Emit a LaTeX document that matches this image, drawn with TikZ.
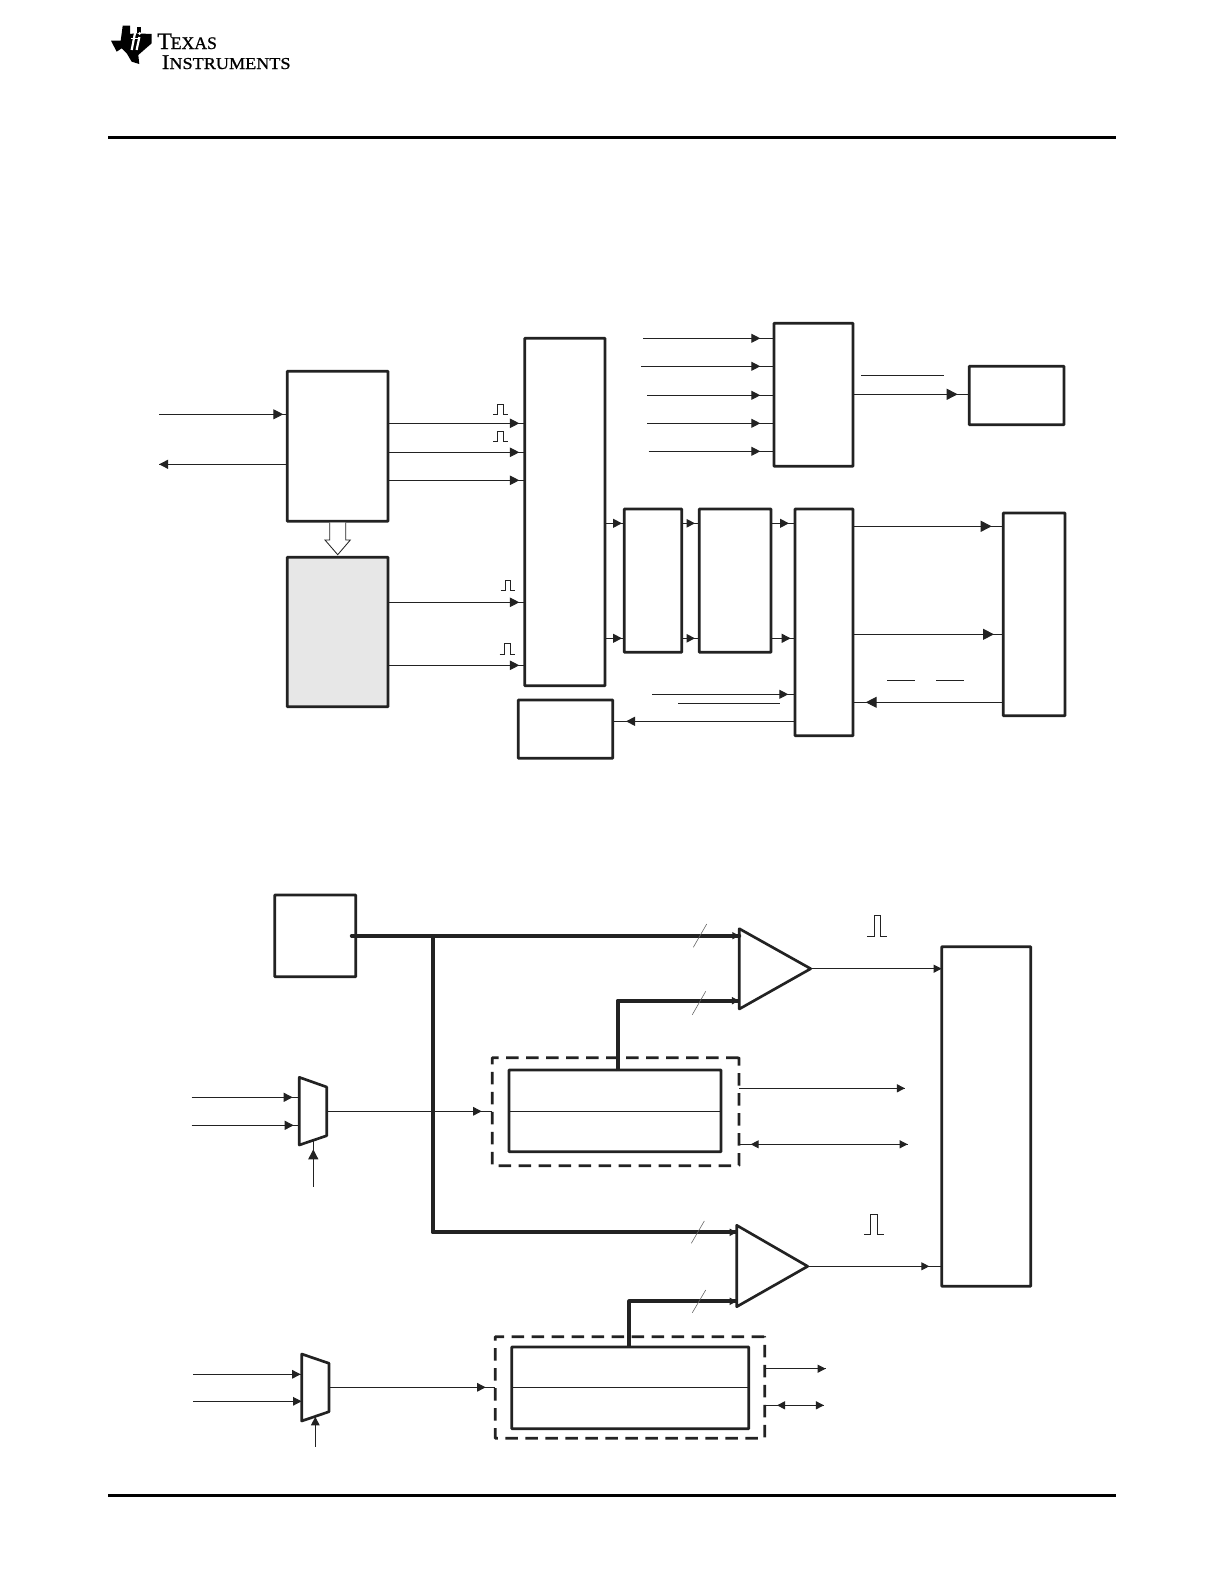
\documentclass[tikz,border=0pt]{standalone}
\usepackage{fontspec}
\newfontfamily\logofont[FakeBold=0.9,FakeStretch=1.0]{Liberation Serif}
\newfontfamily\logofontb[FakeBold=0.9,FakeStretch=1.09]{Liberation Serif}
\usetikzlibrary{arrows.meta,decorations.markings}
\definecolor{ink}{HTML}{222222}
\definecolor{shade}{HTML}{E7E7E7}
\tikzset{
  blk/.style={draw=ink,line width=1.6pt,rounded corners=0.3pt,inner sep=0pt,outer sep=0pt,anchor=north west},
  dbox/.style={blk,dash pattern=on 7.5pt off 4.5pt},
  wire/.style={draw=ink,line width=0.6pt},
  bus/.style={draw=ink,line width=2.3pt,line join=round},
  shape2/.style={draw=ink,line width=1.6pt,line join=round},
  pulsew/.style={draw=ink,line width=0.5pt},
  slashw/.style={draw=ink!70,line width=0.35pt},
  rule/.style={draw=black,line width=1.9pt},
  hd/.style 2 args={postaction={decorate,decoration={markings,
    mark=at position -#1*0.6pt with {\arrow[ink]{Triangle[length=#2*0.6pt,width=#2*0.6pt]}}}}}
}
\newcommand{\pls}[6]{\draw[pulsew] (#1,#6) -- (#2,#6) -- (#2,#5) -- (#3,#5) -- (#3,#6) -- (#4,#6);}
\begin{document}
\begin{tikzpicture}[x=0.6pt,y=-0.6pt]
\useasboundingbox (0,0) rectangle (1224,1584);
% header and footer
\coordinate (tl) at (108,137.3); \coordinate (tr) at (1116,137.3);
\coordinate (bl) at (108,1495.3); \coordinate (br) at (1116,1495.3);
\draw[rule] (tl) -- (tr);
\draw[rule] (bl) -- (br);
% logo
\fill[black,line join=round] (122.7,25.7) -- (130,25.7) -- (130,34) -- (135,33.3) -- (151.7,34) -- (151.7,43.3) -- (144,50) -- (138.3,55) -- (139.3,64) -- (131.7,61.7) -- (126.7,53.3) -- (121.7,48.3) -- (116.7,51.7) -- (111,40.7) -- (120.7,40.7) -- cycle;
\draw[white,line width=1.3pt] (131.7,50) -- (135,33);
\draw[white,line width=0.9pt] (130.5,38.5) -- (138,38.5);
\draw[white,line width=1.3pt] (136.6,50) -- (139.4,37);
\fill[black] (136.5,27) rectangle (141,33.3);
\fill[white] (139.7,33.4) circle (1.6);
\node[inner sep=0pt,anchor=base west,text=black] (logoa) at (157,49) {\logofont\fontsize{14.2}{15}\selectfont T\kern-0.6pt\fontsize{10.6}{15}\selectfont EXAS};
\node[inner sep=0pt,anchor=base west,text=black] (logob) at (161.5,69) {\logofontb\fontsize{12.6}{15}\selectfont I\fontsize{10}{15}\selectfont NSTRUMENTS};
% upper figure boxes
\node[blk,fill=shade,minimum width={(388-287.3)*0.6pt},minimum height={(706.7-557.3)*0.6pt}] (B) at (287.3,557.3) {};
\node[blk,minimum width={(388-287.3)*0.6pt},minimum height={(521.3-371.3)*0.6pt}] (A) at (287.3,371.3) {};
\node[blk,minimum width={(605-524.7)*0.6pt},minimum height={(685.7-338.3)*0.6pt}] (C) at (524.7,338.3) {};
\node[blk,minimum width={(612.7-518.3)*0.6pt},minimum height={(758.3-700)*0.6pt}] (D) at (518.3,700) {};
\node[blk,minimum width={(681.7-624.3)*0.6pt},minimum height={(652.3-509)*0.6pt}] (E) at (624.3,509) {};
\node[blk,minimum width={(771-699.3)*0.6pt},minimum height={(652.3-509)*0.6pt}] (F) at (699.3,509) {};
\node[blk,minimum width={(853-795)*0.6pt},minimum height={(735.7-509)*0.6pt}] (G) at (795,509) {};
\node[blk,minimum width={(853-774)*0.6pt},minimum height={(466.3-323.3)*0.6pt}] (H) at (774,323.3) {};
\node[blk,minimum width={(1064-969.3)*0.6pt},minimum height={(424.7-366.3)*0.6pt}] (I) at (969.3,366.3) {};
\node[blk,minimum width={(1065-1003.3)*0.6pt},minimum height={(715.7-513)*0.6pt}] (J) at (1003.3,513) {};
% hollow arrow A to B
\draw[draw=ink,line width=0.5pt,fill=white,line join=miter] (329.7,522.5) -- (329.7,540) -- (325,540) -- (337.7,554.7) -- (350.3,540) -- (345.7,540) -- (345.7,522.5);
% A connectors
\coordinate (ai) at (159,414.3); \coordinate (ao) at (159,464.3);
\draw[wire,hd={4}{10}] (ai) -- (ai -| A.west);
\draw[wire,hd={0.05}{9}] (ao -| A.west) -- (ao);
\draw[wire,hd={5.4}{9.5}] (A.east |- 0,423.3) -- (C.west |- 0,423.3);
\draw[wire,hd={5.4}{9.5}] (A.east |- 0,452.3) -- (C.west |- 0,452.3);
\draw[wire,hd={5.4}{9.5}] (A.east |- 0,480.3) -- (C.west |- 0,480.3);
\draw[wire,hd={5.4}{9.5}] (B.east |- 0,602.3) -- (C.west |- 0,602.3);
\draw[wire,hd={5.4}{9.5}] (B.east |- 0,665.3) -- (C.west |- 0,665.3);
% pulses upper
\pls{493.3}{497.5}{503.5}{508.3}{404.3}{414.7}
\pls{493.3}{497.5}{503.5}{508.3}{431.3}{441.7}
\pls{500.7}{505}{510.5}{515}{580}{590.3}
\pls{499.7}{504}{510}{514.7}{643.3}{654.7}
% chain C-E-F-G
\draw[wire,hd={2.3}{9}] (C.east |- 0,523.3) -- (E.west |- 0,523.3);
\draw[wire,hd={2.3}{9}] (C.east |- 0,638.3) -- (E.west |- 0,638.3);
\draw[wire,hd={4.3}{8.5}] (E.east |- 0,523.3) -- (F.west |- 0,523.3);
\draw[wire,hd={4.3}{8.5}] (E.east |- 0,638.3) -- (F.west |- 0,638.3);
\draw[wire,hd={6}{9}] (F.east |- 0,523.3) -- (G.west |- 0,523.3);
\draw[wire,hd={4.3}{9}] (F.east |- 0,638.3) -- (G.west |- 0,638.3);
% H inputs
\coordinate (h1) at (643,338.3); \coordinate (h2) at (641,366.3); \coordinate (h3) at (647,395.3); \coordinate (h4) at (647,423.3); \coordinate (h5) at (648.7,451.3);
\draw[wire,hd={13.7}{9}] (h1) -- (h1 -| H.west);
\draw[wire,hd={13.7}{9}] (h2) -- (h2 -| H.west);
\draw[wire,hd={13.7}{9}] (h3) -- (h3 -| H.west);
\draw[wire,hd={13.7}{9}] (h4) -- (h4 -| H.west);
\draw[wire,hd={13.7}{9}] (h5) -- (h5 -| H.west);
\draw[wire,hd={11.6}{11}] (H.east |- 0,394.3) -- (I.west |- 0,394.3);
\coordinate (o1a) at (861,375.3); \coordinate (o1b) at (944,375.3);
\draw[wire] (o1a) -- (o1b);
% G to J
\draw[wire,hd={11.6}{11}] (G.east |- 0,526.3) -- (J.west |- 0,526.3);
\draw[wire,hd={9.3}{11}] (G.east |- 0,634.3) -- (J.west |- 0,634.3);
\draw[wire,hd={12.7}{11}] (J.west |- 0,702.3) -- (G.east |- 0,702.3);
\coordinate (o2a) at (887,680); \coordinate (o2b) at (915,680); \coordinate (o3a) at (936,680); \coordinate (o3b) at (964,680);
\draw[wire] (o2a) -- (o2b);
\draw[wire] (o3a) -- (o3b);
% G inputs/outputs left
\coordinate (gi) at (652,694.3);
\draw[wire,hd={6.7}{9}] (gi) -- (gi -| G.west);
\coordinate (o4a) at (678,703.3); \coordinate (o4b) at (780,703.3);
\draw[wire] (o4a) -- (o4b);
\draw[wire,hd={13.3}{9}] (G.west |- 0,721.3) -- (D.east |- 0,721.3);

% lower figure
\node[blk,minimum width={(355.7-274.7)*0.6pt},minimum height={(976.7-895)*0.6pt}] (K) at (274.7,895) {};
\node[blk,minimum width={(1030.7-941.7)*0.6pt},minimum height={(1286.3-946.7)*0.6pt}] (L) at (941.7,946.7) {};
\node[dbox,minimum width={(739-492.3)*0.6pt},minimum height={(1165.7-1057.7)*0.6pt}] (D1) at (492.3,1057.7) {};
\node[blk,minimum width={(721-509)*0.6pt},minimum height={(1151.7-1070)*0.6pt}] (S1) at (509,1070) {};
\node[dbox,minimum width={(764.7-495.3)*0.6pt},minimum height={(1438.3-1336.7)*0.6pt}] (D2) at (495.3,1336.7) {};
\node[blk,minimum width={(748.7-511.7)*0.6pt},minimum height={(1428.7-1347)*0.6pt}] (S2) at (511.7,1347) {};
% comparators
\coordinate (c1a) at (739.3,928.7); \coordinate (c1b) at (739.3,1009); \coordinate (c1t) at (810.7,968.7);
\coordinate (c2a) at (736.7,1225.3); \coordinate (c2b) at (736.7,1306.7); \coordinate (c2t) at (807.7,1266.3);
\draw[shape2] (c1a) -- (c1t) -- (c1b) -- cycle;
\draw[shape2] (c2a) -- (c2t) -- (c2b) -- cycle;
% muxes
\coordinate (m1a) at (299.3,1077.3); \coordinate (m1b) at (326.7,1087); \coordinate (m1c) at (326.7,1135.7); \coordinate (m1d) at (299.3,1145);
\coordinate (m2a) at (301.7,1354); \coordinate (m2b) at (329,1363.3); \coordinate (m2c) at (329,1411.7); \coordinate (m2d) at (301.7,1421);
\draw[shape2] (m1a) -- (m1b) -- (m1c) -- (m1d) -- cycle;
\draw[shape2] (m2a) -- (m2b) -- (m2c) -- (m2d) -- cycle;
% buses
\coordinate (bus0) at (351.7,935.7); \coordinate (busj) at (432.7,935.7); \coordinate (busc) at (432.7,1232.3);
\draw[bus,line cap=round,hd={0.05}{7}] (bus0) -- (c1a |- bus0);
\draw[bus,hd={0.05}{7}] (busj) -- (busc) -- (c2a |- busc);
\coordinate (bs1) at (617.7,1071); \coordinate (bs1t) at (739,1000.7);
\draw[bus,hd={0.05}{7}] (bs1) |- (bs1t);
\coordinate (bs2) at (629.3,1347); \coordinate (bs2t) at (736.7,1301.3);
\draw[bus,hd={0.05}{7}] (bs2) |- (bs2t);
% slashes
\coordinate (s1a) at (693.3,947.3); \coordinate (s1b) at (706.7,924);
\coordinate (s2a) at (692.3,1014.7); \coordinate (s2b) at (705.7,991.3);
\coordinate (s3a) at (691.3,1243.3); \coordinate (s3b) at (704.3,1221);
\coordinate (s4a) at (692.3,1312.7); \coordinate (s4b) at (705.7,1290);
\draw[slashw] (s1a) -- (s1b);
\draw[slashw] (s2a) -- (s2b);
\draw[slashw] (s3a) -- (s3b);
\draw[slashw] (s4a) -- (s4b);
% outputs to L
\draw[wire,hd={0.05}{8}] (c1t) -- (c1t -| L.west);
\draw[wire,hd={12.4}{8}] (c2t) -- (c2t -| L.west);
\pls{867.3}{874}{880.3}{887.3}{915}{936.3}
\pls{864}{870.5}{877.5}{884}{1214}{1234.3}
% mux 1 connectors
\coordinate (mi1) at (191.7,1097.3); \coordinate (mi2) at (191.7,1125.3); \coordinate (ms1) at (313.3,1186.7); \coordinate (ms1e) at (313.3,1141);
\draw[wire,hd={6.6}{9}] (mi1) -- (mi1 -| m1a);
\draw[wire,hd={5.6}{9}] (mi2) -- (mi2 -| m1a);
\draw[wire,hd={8.3}{10}] (ms1) -- (ms1e);
\coordinate (mo1) at (326.7,1111.3);
\draw[wire,hd={10.6}{8.5}] (mo1) -- (mo1 -| D1.west);
\draw[wire] (S1.west |- 0,1111.3) -- (S1.east |- 0,1111.3);
\coordinate (d1o) at (905,1088.3); \coordinate (d1b) at (907.7,1144.3);
\draw[wire,hd={0.05}{8}] (D1.east |- d1o) -- (d1o);
\draw[wire,hd={0.05}{8}] (D1.east |- d1b) -- (d1b);
\draw[wire,hd={11.7}{8}] (d1b) -- (D1.east |- d1b);
% mux 2 connectors
\coordinate (mi3) at (193.3,1374.3); \coordinate (mi4) at (193.3,1401.3); \coordinate (ms2) at (315.3,1446.7); \coordinate (ms2e) at (315.3,1416.7);
\draw[wire,hd={1}{8.5}] (mi3) -- (mi3 -| m2a);
\draw[wire,hd={0.05}{8.5}] (mi4) -- (mi4 -| m2a);
\draw[wire,hd={0.05}{8.5}] (ms2) -- (ms2e);
\coordinate (mo2) at (329,1387.3);
\draw[wire,hd={9.6}{8.5}] (mo2) -- (mo2 -| D2.west);
\draw[wire] (S2.west |- 0,1387.3) -- (S2.east |- 0,1387.3);
\coordinate (d2o) at (825.7,1368.7); \coordinate (d2b) at (824,1405.3);
\draw[wire,hd={0.05}{8}] (D2.east |- d2o) -- (d2o);
\draw[wire,hd={0.05}{8}] (D2.east |- d2b) -- (d2b);
\draw[wire,hd={12.3}{8}] (d2b) -- (D2.east |- d2b);
\end{tikzpicture}
\end{document}
